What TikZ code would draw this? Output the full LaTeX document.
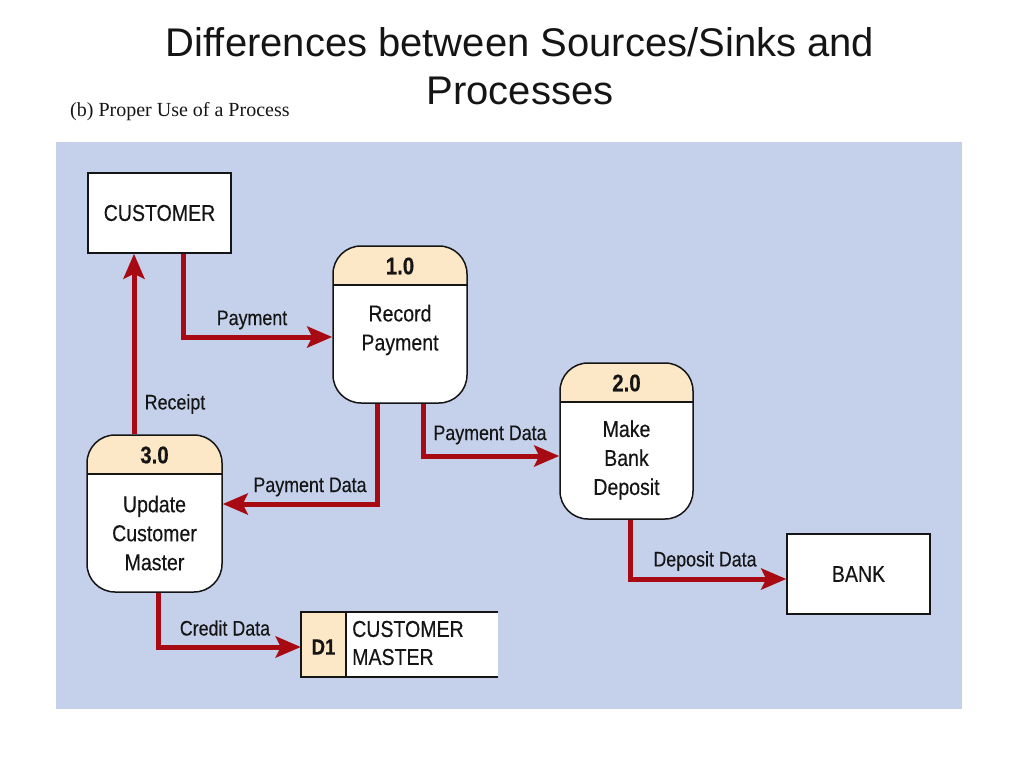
\documentclass[tikz,border=0pt]{standalone}
\usepackage{fontspec}
\setmainfont{Liberation Sans}
\newfontfamily\narrowfont[FakeStretch=0.85,FakeBold=0.3]{Liberation Sans}
\newfontfamily\serifsub{Liberation Serif}
\usetikzlibrary{arrows.meta}
\definecolor{bgblue}{HTML}{C5D1EB}
\definecolor{hdr}{HTML}{FCE8C6}
\definecolor{flowred}{HTML}{A80A14}
\definecolor{ink}{HTML}{151515}
\tikzset{
  entity/.style={draw=ink, line width=1.5pt, fill=white, minimum width=143pt, minimum height=80pt, inner sep=0pt,
    font=\narrowfont\fontsize{23}{28}\selectfont, text=ink},
  proc/.style={draw=ink, line width=1.5pt, fill=white, rounded corners=28pt, inner sep=0pt,
    path picture={\fill[hdr, sharp corners] (path picture bounding box.north west) rectangle ([yshift=-39pt]path picture bounding box.north east);
      \draw[ink, line width=1.5pt, sharp corners] ([yshift=-39pt]path picture bounding box.north west) -- ([yshift=-39pt]path picture bounding box.north east);}},
  procnum/.style={font=\narrowfont\bfseries\fontsize{24}{28}\selectfont, text=ink, inner sep=0pt},
  proctxt/.style={font=\narrowfont\fontsize{23}{29}\selectfont, text=ink, align=center, inner sep=0pt},
  flow/.style={draw=flowred, line width=5pt, -{Stealth[length=25pt,width=21pt,inset=5pt]}},
  flowlabel/.style={font=\narrowfont\fontsize{21}{24}\selectfont, text=ink, inner sep=0pt},
}
\begin{document}
\begin{tikzpicture}[x=1pt,y=-1pt]
\useasboundingbox (0,0) rectangle (1024,768);
% title
\node[font=\fontsize{40}{48}\selectfont, align=center, text=ink] (title) at (520,66) {Differences between Sources/Sinks and\\Processes};
\node[font=\serifsub\fontsize{20}{24}\selectfont, anchor=west, inner sep=0pt, text=ink] (sub) at (70,112) {(b) Proper Use of a Process};
% background
\node[fill=bgblue, minimum width=906pt, minimum height=567pt, inner sep=0pt] (bg) at (509,425.5) {};
% entities
\node[entity] (customer) at (159.5,213) {CUSTOMER};
\node[entity] (bank) at (858.5,574) {BANK};
% processes
\node[proc, minimum width=134pt, minimum height=157pt] (p1) at (400,324.5) {};
\node[procnum] (p1n) at (400,266) {1.0};
\node[proctxt] (p1t) at (400,330) {Record\\Payment};
\node[proc, minimum width=133pt, minimum height=156pt] (p2) at (626.5,441) {};
\node[procnum] (p2n) at (626.5,383) {2.0};
\node[proctxt] (p2t) at (626.5,460) {Make\\Bank\\Deposit};
\node[proc, minimum width=135pt, minimum height=157pt] (p3) at (154.5,513.5) {};
\node[procnum] (p3n) at (154.5,455) {3.0};
\node[proctxt] (p3t) at (154.5,533) {Update\\Customer\\Master};
% data store
\node[fill=white, minimum width=197pt, minimum height=65pt, inner sep=0pt] (d1) at (399.5,644.5) {};
\fill[hdr] (d1.north west) rectangle (d1.south west -| 346,0);
\draw[ink, line width=1.5pt] (d1.north east) -- (d1.north west) -- (d1.south west) -- (d1.south east);
\draw[ink, line width=1.5pt] (d1.north west -| 346,0) -- (d1.south west -| 346,0);
\node[font=\narrowfont\bfseries\fontsize{22}{26}\selectfont, text=ink, inner sep=0pt] (d1id) at (323.5,647) {D1};
\node[font=\narrowfont\fontsize{23}{28}\selectfont, text=ink, align=left, anchor=west, inner sep=0pt] (d1name) at (352,643) {CUSTOMER\\MASTER};
% flows
\draw[flow] (customer.south -| 183,0) |- (p1.west |- 0,337);
\node[flowlabel] (lpay) at (252,320) {Payment};
\draw[flow] (p3.north -| 134,0) -- (customer.south -| 134,0);
\node[flowlabel] (lrec) at (175,404) {Receipt};
\draw[flow] (p1.south -| 377,0) |- (p3.east |- 0,504);
\node[flowlabel] (lpd1) at (310,487) {Payment Data};
\draw[flow] (p1.south -| 423,0) |- (p2.west |- 0,456);
\node[flowlabel] (lpd2) at (490,435) {Payment Data};
\draw[flow] (p2.south -| 630,0) |- (bank.west |- 0,579);
\node[flowlabel] (ldep) at (705,561) {Deposit Data};
\draw[flow] (p3.south -| 158,0) |- (d1.west |- 0,647);
\node[flowlabel] (lcred) at (225,628) {Credit Data};
\end{tikzpicture}
\end{document}
